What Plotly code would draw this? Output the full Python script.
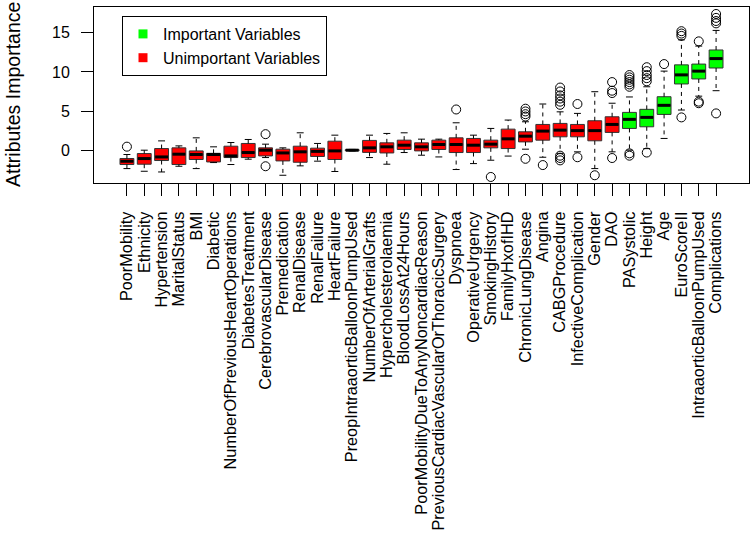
import plotly.graph_objects as go

names = ["PoorMobility", "Ethnicity", "Hypertension", "MaritalStatus", "BMI", "Diabetic",
         "NumberOfPreviousHeartOperations", "DiabetesTreatment", "CerebrovascularDisease",
         "Premedication", "RenalDisease", "RenalFailure", "HeartFailure",
         "PreopIntraaorticBalloonPumpUsed", "NumberOfArterialGrafts", "Hypercholesterolaemia",
         "BloodLossAt24Hours", "PoorMobilityDueToAnyNoncardiacReason",
         "PreviousCardiacVascularOrThoracicSurgery", "Dyspnoea", "OperativeUrgency",
         "SmokingHistory", "FamilyHxofIHD", "ChronicLungDisease", "Angina", "CABGProcedure",
         "InfectiveComplication", "Gender", "DAO", "PASystolic", "Height", "Age",
         "EuroScoreII", "IntraaorticBalloonPumpUsed", "Complications"]

important = [False] * 29 + [True] * 6

lower = [-2.35, -2.69, -2.78, -2.05, -2.35, -1.58, -1.83, -1.15, -0.94, -3.2, -2.0, -1.4,
         -2.72, -0.1, -0.94, -1.79, -0.3, -0.64, -0.86, -2.47, -1.71, -1.28, -0.75, 0.13,
         -0.9, -0.4, -0.21, -2.35, -0.21, 0.0, 0.2, 1.5, 5.13, 6.9, 7.6]
q1 = [-1.83, -1.79, -1.32, -1.83, -1.19, -1.5, -0.94, -0.94, -0.73, -1.37, -1.54, -0.8,
      -1.19, -0.06, -0.28, -0.35, 0.09, -0.09, 0.09, -0.3, -0.3, 0.3, 0.21, 1.06,
      1.28, 1.71, 1.71, 1.2, 2.27, 2.78, 2.99, 4.57, 8.46, 9.1, 10.5]
median = [-1.41, -1.07, -0.86, -0.51, -0.55, -0.55, -0.73, -0.3, 0.0, -0.35, -0.21, -0.15,
          -0.09, 0.0, 0.3, 0.43, 0.64, 0.43, 0.73, 0.73, 0.64, 0.77, 1.45, 1.79,
          2.44, 2.56, 2.5, 2.5, 3.29, 3.94, 4.19, 5.73, 9.62, 10.1, 11.7]
q3 = [-1.06, -0.43, 0.21, 0.3, -0.09, -0.4, 0.51, 0.86, 0.3, 0.13, 0.51, 0.26,
      1.15, 0.06, 1.25, 0.94, 1.28, 0.94, 1.28, 1.58, 1.5, 1.28, 2.69, 2.35,
      3.29, 3.42, 3.29, 3.76, 4.27, 4.83, 5.22, 6.83, 10.9, 11.0, 12.8]
upper = [-0.55, 0.0, 1.19, 0.55, 1.58, 0.43, 0.98, 1.37, 0.77, 0.3, 2.22, 0.86,
         1.92, 0.1, 1.92, 2.14, 2.22, 1.41, 1.41, 3.5, 1.92, 2.78, 3.85, 3.63,
         5.9, 4.9, 4.7, 7.47, 6.0, 6.8, 8.1, 10.1, 14.1, 13.3, 15.3]
outliers = [[0.45], [], [], [], [], [], [], [], [2.05, -2.05], [], [], [], [], [], [], [],
            [], [], [], [5.2], [], [-3.42], [], [5.3, 4.95, 4.6, 4.3, -1.1], [-1.9],
            [8.0, 7.5, 7.0, 6.6, 6.2, 5.8, -0.7, -1.0, -1.3], [5.9, -0.9], [-3.2],
            [8.7, 7.6, 7.3, -1.0], [9.6, 9.3, 9.0, 8.7, 8.4, 8.1, -0.4, -0.7],
            [10.6, 10.1, 9.6, 9.2, 8.8, -0.3], [11.0], [15.2, 14.9, 14.6, 4.19],
            [13.9, 6.2, 6.0], [17.4, 16.9, 16.5, 16.2, 4.7]]

ytick_vals = [0, 5, 10, 15]

pos = list(range(1, len(names) + 1))
FONT = "Liberation Sans, Arial, sans-serif"
BW = 0.8      # box width (data units)
SW = 0.4      # staple width

fig = go.Figure()

# dashed whiskers
wx, wy = [], []
for p, lo, a, b, hi in zip(pos, lower, q1, q3, upper):
    wx += [p, p, None, p, p, None]
    wy += [a, lo, None, b, hi, None]
fig.add_trace(go.Scatter(x=wx, y=wy, mode="lines", showlegend=False, hoverinfo="skip",
                         line=dict(color="black", width=1, dash="4px,4px")))
# staples
sx, sy = [], []
for p, lo, hi in zip(pos, lower, upper):
    sx += [p - SW / 2, p + SW / 2, None, p - SW / 2, p + SW / 2, None]
    sy += [lo, lo, None, hi, hi, None]
fig.add_trace(go.Scatter(x=sx, y=sy, mode="lines", showlegend=False, hoverinfo="skip",
                         line=dict(color="black", width=1)))

# boxes
for flag, col in [(False, "#FF0000"), (True, "#00FF00")]:
    idx = [i for i in range(len(names)) if important[i] == flag]
    fig.add_trace(go.Box(
        x=[pos[i] for i in idx],
        q1=[q1[i] for i in idx], median=[median[i] for i in idx], q3=[q3[i] for i in idx],
        lowerfence=[q1[i] for i in idx], upperfence=[q3[i] for i in idx],
        width=BW, whiskerwidth=0, boxpoints=False, fillcolor=col,
        line=dict(color="#333333", width=1), showlegend=False, hoverinfo="skip"))

# thick medians
mx, my = [], []
for p, m in zip(pos, median):
    mx += [p - BW / 2 + 0.03, p + BW / 2 - 0.03, None]
    my += [m, m, None]
fig.add_trace(go.Scatter(x=mx, y=my, mode="lines", showlegend=False, hoverinfo="skip",
                         line=dict(color="black", width=3)))

# outliers
ox, oy = [], []
for p, outs in zip(pos, outliers):
    for v in outs:
        ox.append(p)
        oy.append(v)
fig.add_trace(go.Scatter(x=ox, y=oy, mode="markers", showlegend=False, hoverinfo="skip",
                         marker=dict(symbol="circle-open", size=9, color="black",
                                     line=dict(width=1, color="black"))))

# legend entries
fig.add_trace(go.Scatter(x=[None], y=[None], mode="markers", name="Important Variables",
                         marker=dict(symbol="square", size=9, color="#00FF00")))
fig.add_trace(go.Scatter(x=[None], y=[None], mode="markers", name="Unimportant Variables",
                         marker=dict(symbol="square", size=9, color="#FF0000")))

fig.update_layout(
    width=750, height=536,
    margin=dict(l=94, r=1, t=7, b=353),
    paper_bgcolor="white", plot_bgcolor="white",
    font=dict(family=FONT, size=16, color="black"),
    boxmode="overlay",
    legend=dict(x=(122 - 94) / 655, y=1 - (16 - 7) / 176, xanchor="left", yanchor="top",
                bordercolor="black", borderwidth=1, bgcolor="white",
                font=dict(size=16), itemwidth=30, tracegroupgap=0),
    xaxis=dict(range=[-0.9, 36.9], tickmode="array", tickvals=pos, ticktext=names,
               tickangle=-90, ticks="outside", ticklen=12, tickcolor="black",
               showline=True, linecolor="black", mirror=True, showgrid=False,
               zeroline=False, ticklabelstandoff=9, tickfont=dict(size=16.3)),
    yaxis=dict(range=[-4.19, 18.29], tickmode="array", tickvals=ytick_vals,
               ticks="outside", ticklen=12, tickcolor="black", showline=True,
               linecolor="black", mirror=True, showgrid=False, zeroline=False,
               ticklabelstandoff=8, tickfont=dict(size=16)),
    annotations=[dict(text="Attributes Importance", textangle=-90, xref="paper",
                      yref="paper", x=(13 - 94) / 655, y=0.5, xanchor="center",
                      yanchor="middle", showarrow=False, font=dict(size=19.5))],
)

fig.write_html("out.html", post_script="document.body.style.margin='0px';",
               config={"displayModeBar": False})
